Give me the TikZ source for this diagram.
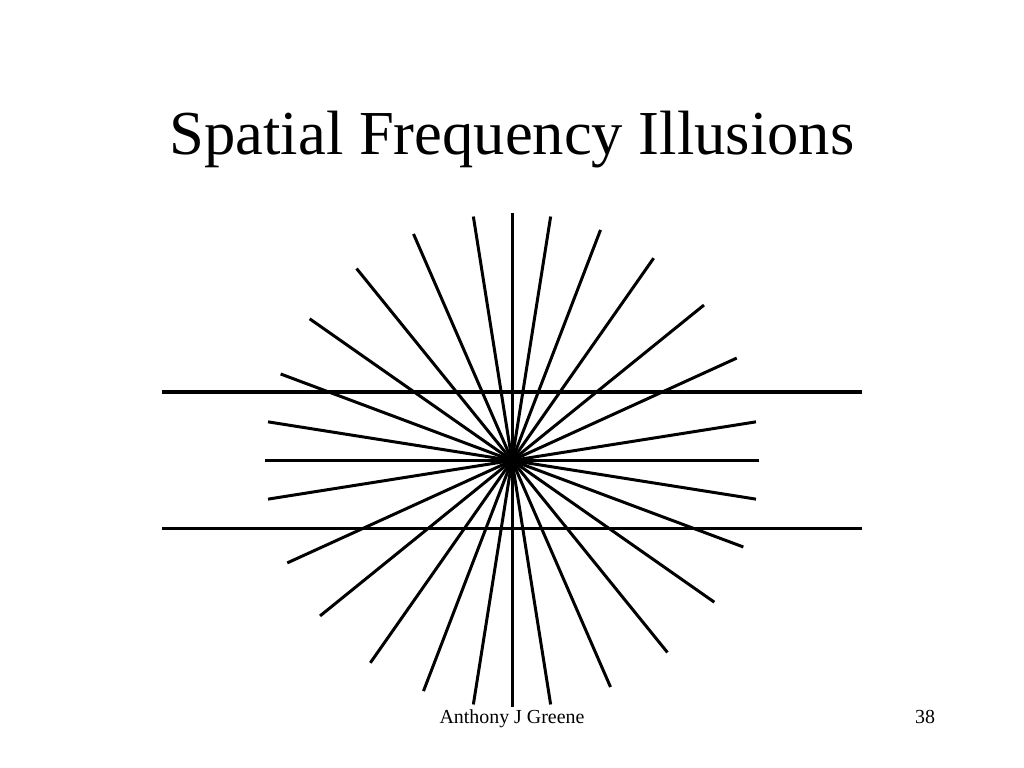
\documentclass[tikz,border=0pt]{standalone}
\usepackage{fontspec}
\setmainfont{Liberation Serif}
\usepackage{tikz}
\tikzstyle{ray}=[draw, line width=2.1pt]
\tikzstyle{bar}=[draw, line width=2.8pt]
\tikzstyle{heading}=[anchor=base, inner sep=0pt, font=\fontsize{44}{52}\selectfont]
\tikzstyle{footer}=[anchor=base, inner sep=0pt, font=\fontsize{14}{17}\selectfont]

\begin{document}
\begin{tikzpicture}[x=0.703125pt, y=0.703125pt]
    \useasboundingbox (0,0) rectangle (1024,768);
    \node [heading] (title)  at (512,613) {Spatial Frequency Illusions};
    \node [footer]  (author) at (512,44)  {Anthony J Greene};
    \node [footer]  (page)   at (925,44)  {38};
    \coordinate (hub) at (512,307.5);
    % the two parallel bars
    \coordinate (topL) at (162,375.7);
    \coordinate (topR) at (862,375.7);
    \coordinate (lowL) at (162,239.5);
    \coordinate (lowR) at (862,239.5);
    \path [bar] (topL) -- (topR);
    \path [bar] (lowL) -- (lowR);
    % the fan of lines through the hub
    \foreach \a in {0,9,24.5,39,55,69,81,90,99,113.5,129,145,159.5,171}
        \path [ray] (hub) +(\a:247) -- +(\a+180:247);
\end{tikzpicture}
\end{document}
